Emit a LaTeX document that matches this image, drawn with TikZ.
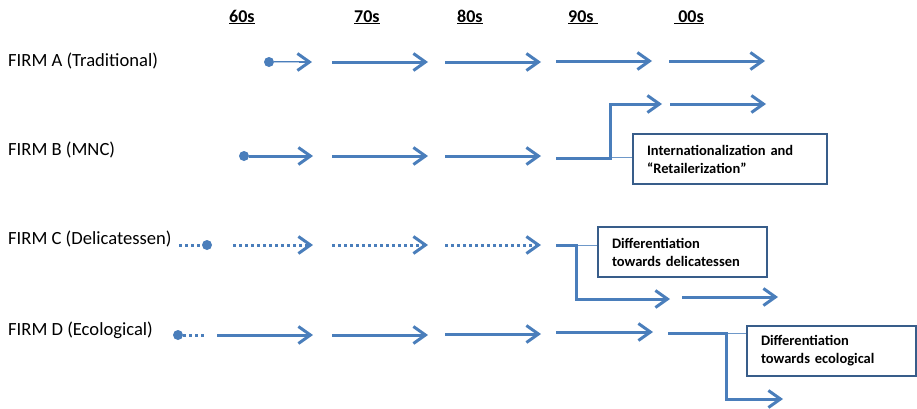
\documentclass[tikz,border=0pt]{standalone}
\usepackage{fontspec}
\setmainfont{Carlito}
\usepackage{tikz}
\usetikzlibrary{arrows.meta}
\usetikzlibrary{positioning}

\definecolor{flowblue}{HTML}{4A7EBB}
\definecolor{boxblue}{HTML}{385D8A}

\begin{document}
\begin{tikzpicture}[
      x=1pt, y=-1pt,
      firm/.style ={anchor=west, inner sep=0pt, font=\fontsize{18.6}{22}\selectfont},
      decade/.style ={anchor=base west, inner sep=0pt, font=\fontsize{18}{22}\selectfont\bfseries},
      note/.style ={rectangle, draw=boxblue, line width=1.1pt, fill=white, minimum width=#1, text width=#1-28pt, minimum height=50pt, inner xsep=14pt, align=left, font=\fontsize{14.5}{18}\selectfont\bfseries},
      startdot/.style ={circle, fill=flowblue, inner sep=0pt, minimum size=10pt},
      flow/.style ={-{Straight Barb[length=12pt, width=17pt]}, draw=flowblue, line width=3pt},
      thinflow/.style ={-{Straight Barb[length=12pt, width=17pt, line width=3pt]}, draw=flowblue, line width=2.6pt,
        postaction={draw=flowblue!40, line width=0.9pt, -, shorten >=13pt}},
      dotflow/.style ={flow, dash pattern=on 3pt off 3pt},
      link/.style ={draw=flowblue!80, line width=1pt}
    ]
    \useasboundingbox (0,0) rectangle (917,408);

    % decades
    \node [decade] (d60) at (229,22) {\underline{60s}} ;
    \node [decade] (d70) at (354,22) {\underline{70s}} ;
    \node [decade] (d80) at (457,22) {\underline{80s}} ;
    \node [decade] (d90) at (568,22) {\underline{90s\ }} ;
    \node [decade] (d00) at (674,22) {\underline{\ 00s}} ;

    % firms
    \node [firm] (firmA) at (8,61) {FIRM A (Traditional)} ;
    \node [firm] (firmB) at (8,150) {FIRM B (MNC)} ;
    \node [firm] (firmC) at (8,239) {FIRM C (Delicatessen)} ;
    \node [firm] (firmD) at (8,330) {FIRM D (Ecological)} ;

    % notes
    \node [note=194pt] (retail) at (730,159) {Internationalization and\\``Retailerization''} ;
    \node [note=169pt] (delica) at (682.5,252) {Differentiation\\towards delicatessen} ;
    \node [note=169pt] (ecolo) at (831.5,351) {Differentiation\\towards ecological} ;

    % FIRM A
    \node [startdot] (aDot) at (269,62) {} ;
    \coordinate (a60) at (312,62) ;
    \coordinate (a70s) at (332,62) ; \coordinate (a70) at (428,62) ;
    \coordinate (a80s) at (445,62) ; \coordinate (a80) at (541,62) ;
    \coordinate (a90s) at (556,61) ; \coordinate (a90) at (652,61) ;
    \coordinate (a00s) at (669,61) ; \coordinate (a00) at (765,61) ;
    \draw [thinflow] (aDot) -- (a60) ;
    \draw [flow] (a70s) -- (a70) ;
    \draw [flow] (a80s) -- (a80) ;
    \draw [flow] (a90s) -- (a90) ;
    \draw [flow] (a00s) -- (a00) ;

    % FIRM B
    \node [startdot] (bDot) at (244,156) {} ;
    \coordinate (b60) at (313,156) ;
    \coordinate (b70s) at (332,156) ; \coordinate (b70) at (428,156) ;
    \coordinate (b80s) at (445,156) ; \coordinate (b80) at (541,156) ;
    \coordinate (b90s) at (556,158) ; \coordinate (bTurn) at (610,158) ;
    \coordinate (b90) at (662,104) ;
    \coordinate (b00s) at (670,104) ; \coordinate (b00) at (766,104) ;
    \coordinate (bLink) at (597,157) ;
    \draw [flow] (bDot) -- (b60) ;
    \draw [flow] (b70s) -- (b70) ;
    \draw [flow] (b80s) -- (b80) ;
    \draw [link] (bLink) -- (bLink -| retail.west) ;
    \draw [flow] (b90s) -- (bTurn) |- (b90) ;
    \draw [flow] (b00s) -- (b00) ;

    % FIRM C
    \coordinate (cLead) at (179,245) ;
    \node [startdot] (cDot) at (207,245) {} ;
    \coordinate (c60s) at (233,245) ; \coordinate (c60) at (313,245) ;
    \coordinate (c70s) at (332,245) ; \coordinate (c70) at (428,245) ;
    \coordinate (c80s) at (445,245) ; \coordinate (c80) at (541,245) ;
    \coordinate (c90s) at (556,245) ; \coordinate (cTurn) at (576,245) ;
    \coordinate (c90) at (670,299) ;
    \coordinate (c00s) at (682,297) ; \coordinate (c00) at (778,297) ;
    \draw [flowblue, line width=3pt, dash pattern=on 3pt off 3pt] (cLead) -- (cDot) ;
    \draw [dotflow] (c60s) -- (c60) ;
    \draw [dotflow] (c70s) -- (c70) ;
    \draw [dotflow] (c80s) -- (c80) ;
    \draw [link] (cTurn) -- (cTurn -| delica.west) ;
    \draw [flow] (c90s) -- (cTurn) |- (c90) ;
    \draw [flow] (c00s) -- (c00) ;

    % FIRM D
    \node [startdot] (dDot) at (178,335) {} ;
    \coordinate (dLead) at (204,335) ;
    \coordinate (d60s) at (217,335) ; \coordinate (d60) at (313,335) ;
    \coordinate (d70s) at (332,335) ; \coordinate (d70) at (428,335) ;
    \coordinate (d80s) at (445,334) ; \coordinate (d80) at (541,334) ;
    \coordinate (d90s) at (556,332) ; \coordinate (d90) at (653,332) ;
    \coordinate (d00s) at (668,333) ; \coordinate (dTurn) at (726,333) ;
    \coordinate (d00) at (783,399) ;
    \draw [flowblue, line width=3pt, dash pattern=on 3pt off 3pt] (dDot) -- (dLead) ;
    \draw [flow] (d60s) -- (d60) ;
    \draw [flow] (d70s) -- (d70) ;
    \draw [flow] (d80s) -- (d80) ;
    \draw [flow] (d90s) -- (d90) ;
    \draw [link] (dTurn) -- (dTurn -| ecolo.west) ;
    \draw [flow] (d00s) -- (dTurn) |- (d00) ;
  \end{tikzpicture}
\end{document}
